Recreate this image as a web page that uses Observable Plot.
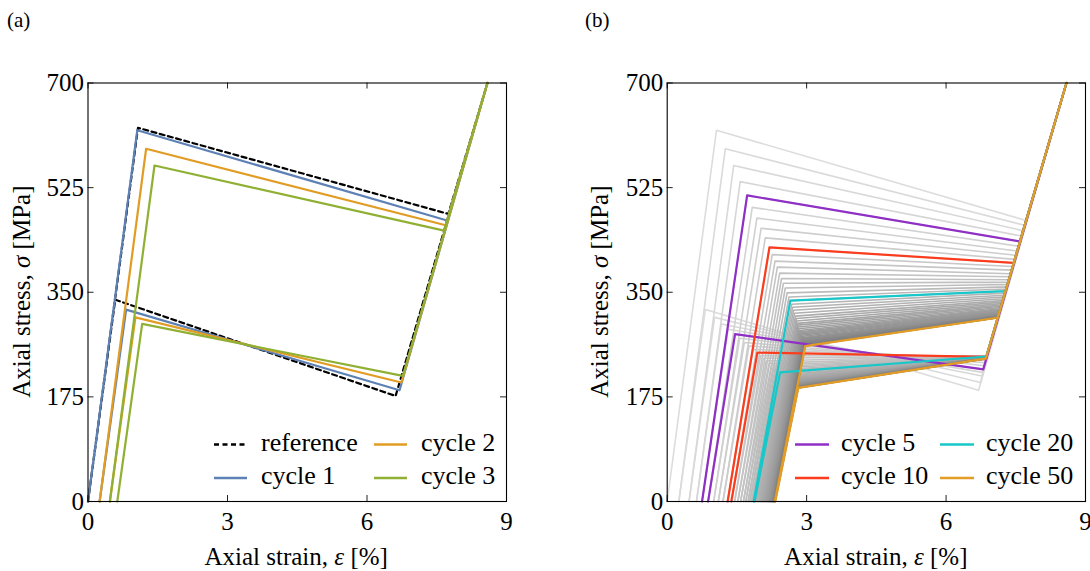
<!DOCTYPE html>
<html>
<head>
<meta charset="utf-8">
<script src="https://cdn.jsdelivr.net/npm/d3@7"></script>
<script src="https://cdn.jsdelivr.net/npm/@observablehq/plot@0.6"></script>
<style>
  html, body { margin: 0; padding: 0; background: #fff; }
  #wrap { position: relative; width: 1090px; height: 571px; overflow: hidden; }
  .panel { position: absolute; top: 0; }
</style>
</head>
<body>
<div id="wrap"></div>
<script>
// ---- axis ticks ----
const strainTicks = [0, 3, 6, 9];
const stressTicks = [0, 175, 350, 525, 700];

// ---- common turning point of every loop (maximum strain / stress) ----
const peakStrain = 8.59;
const peakStress = 700;

// ---- reference loop: [strain %, stress MPa] corners ----
const referenceStrain = [0, 1.075, 7.75, 8.59, 6.615, 0.585, 0];
const referenceStress = [0, 625, 481, 700, 176.5, 337.5, 0];

// ---- per-cycle corner values, cycles 1..50 ----
// strain at the start of loading
const loadStart = [
  0, 0.25, 0.47, 0.63, 0.75, 0.88, 1.00, 1.10, 1.20, 1.30,
  1.38, 1.45, 1.52, 1.58, 1.64, 1.69, 1.74, 1.78, 1.82, 1.86,
  1.88, 1.91, 1.94, 1.97, 2.00, 2.03, 2.05, 2.07, 2.09, 2.11,
  2.13, 2.15, 2.165, 2.18, 2.195, 2.21, 2.22, 2.23, 2.24, 2.25,
  2.26, 2.27, 2.275, 2.28, 2.29, 2.295, 2.30, 2.305, 2.31, 2.315
];
// residual strain at the end of unloading
const unloadEnd = [
  0.25, 0.47, 0.63, 0.75, 0.88, 1.00, 1.10, 1.20, 1.30, 1.38,
  1.45, 1.52, 1.58, 1.64, 1.69, 1.74, 1.78, 1.82, 1.86, 1.88,
  1.91, 1.94, 1.97, 2.00, 2.03, 2.05, 2.07, 2.09, 2.11, 2.13,
  2.15, 2.165, 2.18, 2.195, 2.21, 2.22, 2.23, 2.24, 2.25, 2.26,
  2.27, 2.275, 2.28, 2.29, 2.295, 2.30, 2.305, 2.31, 2.315, 2.325
];
// onset of the upper (loading) plateau
const fwdStartStrain = [
  1.06, 1.25, 1.43, 1.57, 1.72, 1.83, 1.93, 2.02, 2.11, 2.20,
  2.26, 2.32, 2.37, 2.42, 2.46, 2.50, 2.54, 2.58, 2.62, 2.65,
  2.68, 2.70, 2.72, 2.74, 2.76, 2.78, 2.79, 2.80, 2.81, 2.82,
  2.83, 2.84, 2.85, 2.86, 2.87, 2.875, 2.88, 2.89, 2.895, 2.90,
  2.91, 2.915, 2.92, 2.93, 2.935, 2.94, 2.95, 2.955, 2.96, 2.97
];
const fwdStartStress = [
  621, 590, 562, 535, 512, 492, 474, 457, 441, 425,
  413, 402, 392, 382, 373, 365, 357, 349, 342, 336,
  330, 325, 320, 315, 310, 306, 302, 298, 295, 292,
  289, 286, 284, 282, 280, 278, 276, 274, 272.5, 271,
  269.5, 268, 267, 266, 265, 264, 263, 262, 261, 260
];
// end of the upper plateau
const fwdEndStrain = [
  7.722, 7.692, 7.658, 7.624, 7.590, 7.560, 7.530, 7.503, 7.477, 7.454,
  7.432, 7.409, 7.386, 7.367, 7.349, 7.333, 7.318, 7.303, 7.290, 7.277,
  7.264, 7.250, 7.239, 7.228, 7.216, 7.207, 7.198, 7.188, 7.181, 7.173,
  7.165, 7.160, 7.154, 7.149, 7.143, 7.139, 7.135, 7.132, 7.128, 7.124,
  7.122, 7.120, 7.118, 7.116, 7.115, 7.113, 7.111, 7.110, 7.109, 7.108
];
const fwdEndStress = [
  470, 462, 453, 444, 435, 427, 419, 412, 405, 399,
  393, 387, 381, 376, 371, 367, 363, 359, 355.5, 352,
  348.5, 345, 342, 339, 336, 333.5, 331, 328.5, 326.5, 324.5,
  322.5, 321, 319.5, 318, 316.5, 315.5, 314.5, 313.5, 312.5, 311.5,
  311, 310.5, 310, 309.5, 309, 308.5, 308, 307.8, 307.5, 307.3
];
// onset of the lower (unloading) plateau
const revStartStrain = [
  6.70, 6.74, 6.77, 6.785, 6.80, 6.82, 6.835, 6.85, 6.86, 6.865,
  6.87, 6.87, 6.875, 6.875, 6.875, 6.875, 6.87, 6.87, 6.87, 6.865,
  6.865, 6.865, 6.864, 6.864, 6.863, 6.863, 6.862, 6.862, 6.861, 6.861,
  6.86, 6.86, 6.86, 6.859, 6.859, 6.858, 6.858, 6.858, 6.857, 6.857,
  6.857, 6.856, 6.856, 6.856, 6.855, 6.855, 6.855, 6.855, 6.854, 6.854
];
const revStartStress = [
  186, 199, 210, 216, 221, 227, 232, 236, 239.5, 242,
  243, 243.5, 244, 244, 244, 244, 243.5, 243.5, 243, 242.5,
  242.3, 242.1, 241.9, 241.7, 241.5, 241.3, 241.1, 240.9, 240.8, 240.7,
  240.6, 240.5, 240.4, 240.3, 240.2, 240.1, 240, 239.9, 239.8, 239.7,
  239.6, 239.5, 239.4, 239.3, 239.2, 239.1, 239.1, 239, 239, 239
];
// end of the lower plateau
const revEndStrain = [
  0.82, 1.02, 1.165, 1.31, 1.46, 1.56, 1.66, 1.76, 1.85, 1.94,
  2.01, 2.07, 2.13, 2.19, 2.24, 2.28, 2.32, 2.36, 2.40, 2.43,
  2.46, 2.49, 2.52, 2.55, 2.57, 2.59, 2.61, 2.63, 2.65, 2.665,
  2.68, 2.695, 2.71, 2.72, 2.73, 2.74, 2.75, 2.76, 2.765, 2.77,
  2.78, 2.785, 2.79, 2.795, 2.80, 2.805, 2.81, 2.813, 2.817, 2.82
];
const revEndStress = [
  321, 308, 297, 288, 280, 273, 266, 260, 254.5, 249,
  244, 239.5, 235, 231, 228, 225, 222.5, 220, 218, 216,
  214, 212, 210.5, 209, 207.5, 206, 204.5, 203.5, 202.5, 201.5,
  200.5, 199.5, 198.5, 197.5, 197, 196.2, 195.5, 195, 194.3, 193.8,
  193.2, 192.7, 192.3, 191.9, 191.5, 191.2, 190.9, 190.6, 190.3, 190
];

// ---- highlighted series ----
const panelACycles = [1, 2, 3];
const panelAColors = ["#5e81b5", "#e19c24", "#8fb032"];
const panelBCycles = [5, 10, 20, 50];
const panelBColors = ["#8f2fc6", "#fb3d1e", "#17c7c9", "#e39d26"];

const nCycles = fwdStartStress.length;
[loadStart, unloadEnd, fwdStartStrain, fwdEndStrain, fwdEndStress,
 revStartStrain, revStartStress, revEndStrain, revEndStress].forEach((a, k) => {
  if (a.length !== nCycles) throw new Error("array " + k + " has " + a.length + " values");
});

function cycleRows(c) {
  const i = c - 1;
  return [
    [loadStart[i], 0],
    [fwdStartStrain[i], fwdStartStress[i]],
    [fwdEndStrain[i], fwdEndStress[i]],
    [peakStrain, peakStress],
    [revStartStrain[i], revStartStress[i]],
    [revEndStrain[i], revEndStress[i]],
    [unloadEnd[i], 0]
  ].map(([strain, stress]) => ({cycle: c, strain, stress}));
}
const referenceRows = referenceStrain.map((s, i) => ({strain: s, stress: referenceStress[i]}));

const FONT = "'Liberation Serif', 'Times New Roman', serif";
const W = 545, H = 571;
const mTop = 82.5, mBottom = 70;
const fh = H - mTop - mBottom;

function axesMarks(fw) {
  return [
    Plot.tickY(stressTicks, {y: d => d, insetRight: fw - 6, stroke: "#222"}),
    Plot.tickY(stressTicks, {y: d => d, insetLeft: fw - 6, stroke: "#222"}),
    Plot.tickX(strainTicks, {x: d => d, insetTop: fh - 6, stroke: "#222"}),
    Plot.tickX(strainTicks, {x: d => d, insetBottom: fh - 6, stroke: "#222"}),
    Plot.axisY({ticks: stressTicks, tickSize: 0, tickPadding: 4, label: null}),
    Plot.axisX({ticks: strainTicks, tickSize: 0, tickPadding: 10.5, label: null})
  ];
}

function makePlot(mLeft, mRight, marks) {
  const fw = W - mLeft - mRight;
  return Plot.plot({
    width: W, height: H,
    marginLeft: mLeft, marginRight: mRight, marginTop: mTop, marginBottom: mBottom,
    x: {domain: [0, 9]},
    y: {domain: [0, 700]},
    color: {type: "linear", domain: [1, 50], range: ["#dcdcdc", "#7c7c7c"]},
    style: {fontFamily: FONT, fontSize: "25px", color: "#000", background: "transparent"},
    marks: [...marks, ...axesMarks(fw), Plot.frame({stroke: "#000", strokeWidth: 1.1})]
  });
}

// panel (a): reference loop and the first three cycles
const marksA = [
  Plot.line(referenceRows, {x: "strain", y: "stress", stroke: "#000", strokeWidth: 2.2, strokeDasharray: "5,3.5"}),
  ...panelACycles.map((c, k) =>
    Plot.line(cycleRows(c), {x: "strain", y: "stress", stroke: panelAColors[k], strokeWidth: 2.2}))
];
const plotA = makePlot(87.5, 39, marksA);

// panel (b): all 50 cycles in grey with selected cycles highlighted
const allRows = d3.range(1, nCycles + 1).flatMap(cycleRows);
const marksB = [
  Plot.line(allRows, {x: "strain", y: "stress", z: "cycle", stroke: "cycle", strokeWidth: 1.6}),
  ...panelBCycles.map((c, k) =>
    Plot.line(cycleRows(c), {x: "strain", y: "stress", stroke: panelBColors[k], strokeWidth: 2.2}))
];
const plotB = makePlot(121.7, 5, marksB);

const wrap = document.getElementById("wrap");
plotA.classList.add("panel"); plotA.style.left = "0px";
plotB.classList.add("panel"); plotB.style.left = "545px";
wrap.appendChild(plotA);
wrap.appendChild(plotB);

// titles, panel tags and legends
const ov = d3.select(wrap).append("svg")
  .attr("width", 1090).attr("height", 571)
  .style("position", "absolute").style("left", 0).style("top", 0)
  .style("font-family", FONT).style("pointer-events", "none");

function richText(g, parts) {
  parts.forEach(([t, italic]) => {
    const s = g.append("tspan").text(t);
    if (italic) s.attr("font-style", "italic");
  });
}

[[0, "(a)", 7, 296.2, 30], [545, "(b)", 585, 875.8, 608]].forEach(([off, tag, tagX, cx, yx]) => {
  ov.append("text").attr("x", tagX).attr("y", 27).attr("font-size", 21).text(tag);
  const xt = ov.append("text").attr("x", cx).attr("y", 565).attr("font-size", 25).attr("text-anchor", "middle");
  richText(xt, [["Axial strain, ", false], ["ε", true], [" [%]", false]]);
  const yt = ov.append("text").attr("transform", `translate(${yx},291.7) rotate(-90)`)
    .attr("font-size", 25).attr("text-anchor", "middle");
  richText(yt, [["Axial stress, ", false], ["σ", true], [" [MPa]", false]]);
});

function legend(items) {
  items.forEach(({label, color, dash, x1, x2, tx, row}) => {
    const yLine = row === 0 ? 444.5 : 478;
    const yText = row === 0 ? 450.5 : 484;
    ov.append("line").attr("x1", x1).attr("x2", x2).attr("y1", yLine).attr("y2", yLine)
      .attr("stroke", color).attr("stroke-width", 2.4)
      .attr("stroke-dasharray", dash ? "5,3.5" : null);
    ov.append("text").attr("x", tx).attr("y", yText).attr("font-size", 26).text(label);
  });
}
legend([
  {label: "reference", color: "#000", dash: true, x1: 214, x2: 247, tx: 261, row: 0},
  {label: "cycle " + panelACycles[0], color: panelAColors[0], x1: 214, x2: 247, tx: 261, row: 1},
  {label: "cycle " + panelACycles[1], color: panelAColors[1], x1: 374, x2: 407, tx: 421, row: 0},
  {label: "cycle " + panelACycles[2], color: panelAColors[2], x1: 374, x2: 407, tx: 421, row: 1}
]);
legend([
  {label: "cycle " + panelBCycles[0], color: panelBColors[0], x1: 795, x2: 829, tx: 841, row: 0},
  {label: "cycle " + panelBCycles[1], color: panelBColors[1], x1: 795, x2: 829, tx: 841, row: 1},
  {label: "cycle " + panelBCycles[2], color: panelBColors[2], x1: 940, x2: 974, tx: 986, row: 0},
  {label: "cycle " + panelBCycles[3], color: panelBColors[3], x1: 940, x2: 974, tx: 986, row: 1}
]);
</script>
</body>
</html>
